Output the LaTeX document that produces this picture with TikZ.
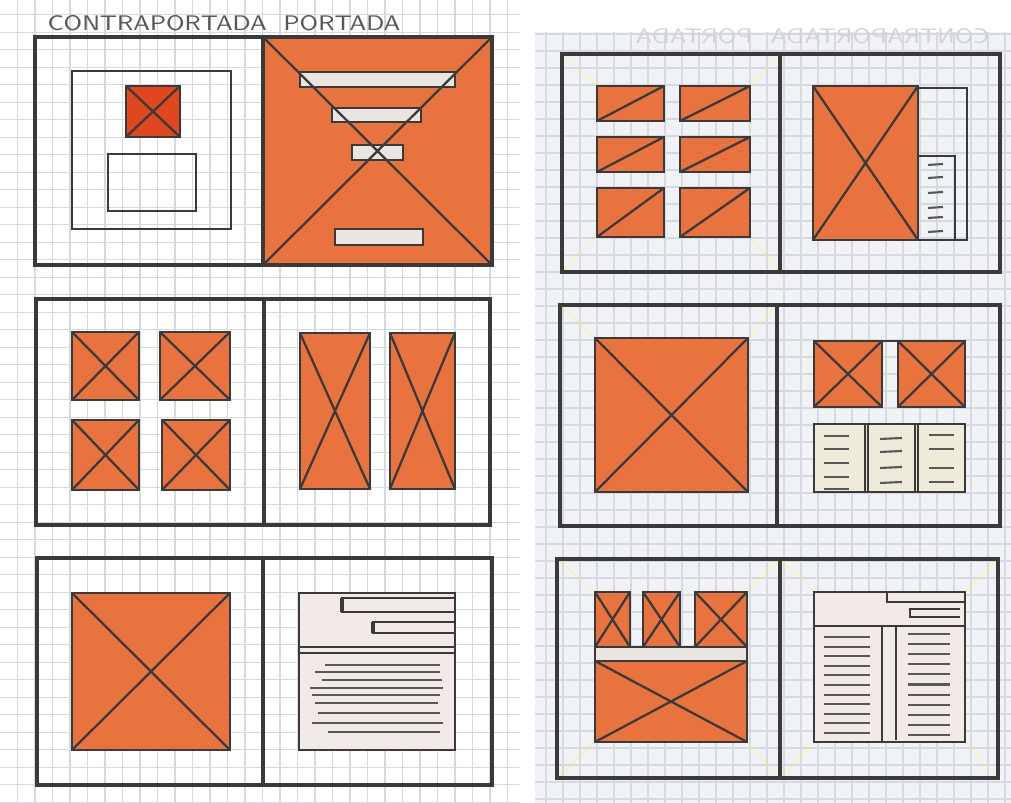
\documentclass[tikz,border=0pt]{standalone}
\usepackage{tikz}
\usetikzlibrary{calc}
\usepackage{xcolor}
\definecolor{SketchOrange}{HTML}{E9733F}
\definecolor{SketchRed}{HTML}{E0471F}
\definecolor{SketchPencil}{HTML}{3A3A3A}
\definecolor{SketchGrid}{HTML}{D5D9E0}
\definecolor{SketchPaper}{HTML}{F1F2F5}
\definecolor{SketchCream}{HTML}{EEEBDA}
\definecolor{SketchBlush}{HTML}{F2EAE6}
\definecolor{SketchStrip}{HTML}{E9E6E2}

% filled layout box with a cross / with one slash
\newcommand{\crossbox}[5][SketchOrange]{%
  \filldraw[frame,fill=#1] (#2,#3) rectangle (#4,#5);
  \draw[frame] (#2,#3) -- (#4,#5) (#2,#5) -- (#4,#3);}
\newcommand{\slashbox}[4]{%
  \filldraw[frame,fill=SketchOrange] (#1,#2) rectangle (#3,#4);
  \draw[frame] (#1,#4) -- (#3,#2);}

\begin{document}
\begin{tikzpicture}[x=0.1mm,y=-0.1mm,
    page/.style={draw=SketchPencil,line width=0.9pt},
    frame/.style={draw=SketchPencil,line width=0.65pt},
    hairline/.style={draw=SketchPencil,line width=0.45pt},
    textline/.style={draw=SketchPencil!85,line width=0.6pt},
    gridline/.style={draw=SketchGrid,line width=0.3pt},
    guide/.style={draw=yellow!70!white,line width=0.4pt,opacity=0.35},
    title/.style={text=SketchPencil!85,inner sep=0pt,anchor=base west,
      font=\sffamily\fontsize{6}{7}\selectfont}]
  \useasboundingbox (0,0) rectangle (1011,803);
  \fill[white] (0,0) rectangle (1011,803);

  % paper and squares
  \fill[SketchPaper] (535,32) rectangle (1011,803);
  \foreach \k in {1,...,29} \draw[gridline] (17.5*\k,0) -- (17.5*\k,803);
  \foreach \k in {1,...,46} \draw[gridline] (0,-2.7+17.5*\k) -- (520,-2.7+17.5*\k);
  \foreach \k in {0,...,27} \draw[gridline] (546+17*\k,32) -- (546+17*\k,803);
  \foreach \k in {0,...,45} \draw[gridline] (535,34+17*\k) -- (1011,34+17*\k);

  % titles
  \node[title] (contra) at (47,31) {\scalebox{1.12}[1]{CONTRAPORTADA}};
  \node[title] (portada) at (283,31) {\scalebox{1.12}[1]{PORTADA}};
  \node[title,text=SketchPencil!22] (ghost) at (635,44)
    {\reflectbox{\scalebox{1.12}[1]{CONTRAPORTADA\hspace{1.6mm}PORTADA}}};

  % ---- left sheet, row 1
  \fill[SketchOrange] (263,37) rectangle (492,265);
  \foreach \ax/\ay/\bx/\by in {300/72/455/87,332/108/421/122,352/145/403/160,335/229/423/245}
    \filldraw[hairline,fill=SketchStrip] (\ax,\ay) rectangle (\bx,\by);
  \draw[frame] (263,37) -- (492,265) (492,37) -- (263,265);
  \draw[page] (35,37) rectangle (492,265) (263,37) -- (263,265);
  \draw[frame] (72,71) rectangle (231,229);
  \crossbox[SketchRed]{126}{86}{180}{137}
  \draw[frame] (108,154) rectangle (196,211);

  % ---- left sheet, row 2
  \draw[page] (36,299) rectangle (490,525) (264,299) -- (264,525);
  \crossbox{72}{332}{139}{400}
  \crossbox{160}{332}{230}{400}
  \crossbox{72}{420}{139}{490}
  \crossbox{162}{420}{230}{490}
  \crossbox{300}{333}{370}{489}
  \crossbox{390}{333}{455}{489}

  % ---- left sheet, row 3
  \draw[page] (37,558) rectangle (492,785) (263,558) -- (263,785);
  \crossbox{72}{593}{230}{750}
  \filldraw[frame,fill=SketchBlush] (299,593) rectangle (455,750);
  \draw[frame] (299,647) -- (455,647) (299,653) -- (455,653);
  \draw[hairline] (342,598) rectangle (455,612) (373,622) rectangle (455,633);
  \draw[frame,line width=1.2pt] (342,598) -- (342,612) (373,622) -- (373,633);
  \foreach \ly/\la/\lb in {665/325/440,672/315/440,680/322/442,688/310/443,695/312/440,
      703/315/438,713/318/440,723/312/443,732/328/440}
    \draw[textline] (\la,\ly) -- (\lb,\ly);

  % ---- right sheet, row 1
  \draw[guide] (562,54) -- (597,86) (780,54) -- (750,86) (562,272) -- (597,237) (780,272) -- (750,237);
  \draw[page] (562,54) rectangle (1000,272) (780,54) -- (780,272);
  \foreach \ry/\rz in {86/121,137/172,188/237} {
    \slashbox{597}{\ry}{664}{\rz}
    \slashbox{680}{\ry}{750}{\rz}
  }
  \crossbox{813}{86}{918}{240}
  \draw[frame] (918,88) -- (967,88) -- (967,240) -- (918,240);
  \draw[frame] (918,156) -- (955,156) -- (955,240);
  \foreach \ly in {165,178,193,208,218,232} \draw[textline] (928,\ly) -- (943,\ly-1);

  % ---- right sheet, row 2
  \draw[guide] (560,305) -- (595,338) (777,305) -- (748,338);
  \draw[page] (560,305) rectangle (1000,526) (777,305) -- (777,526);
  \crossbox{595}{338}{748}{492}
  \crossbox{814}{341}{882}{407}
  \crossbox{898}{341}{965}{407}
  \draw[frame] (882,341) -- (898,341);
  \filldraw[frame,fill=SketchCream] (814,424) rectangle (965,492);
  \draw[frame] (865,424) -- (865,492) (868,424) -- (868,492)
               (915,424) -- (915,492) (918,424) -- (918,492);
  \foreach \ly in {436,449,463,477,489} \draw[textline] (824,\ly) -- (849,\ly);
  \foreach \ly in {438,451,467,482} \draw[textline] (880,\ly+1) -- (902,\ly);
  \foreach \ly in {435,449,468,482} \draw[textline] (929,\ly) -- (954,\ly);

  % ---- right sheet, row 3
  \draw[guide] (557,559) -- (595,592) (780,559) -- (747,592) (557,778) -- (595,742) (780,778) -- (747,742)
               (780,559) -- (814,592) (998,559) -- (965,592) (780,778) -- (814,742) (998,778) -- (965,742);
  \draw[page] (557,559) rectangle (998,778) (780,559) -- (780,778);
  \crossbox{595}{592}{630}{647}
  \crossbox{643}{592}{680}{647}
  \crossbox{695}{592}{747}{647}
  \filldraw[frame,fill=SketchStrip] (595,647) rectangle (747,661);
  \crossbox{595}{661}{747}{742}
  \filldraw[frame,fill=SketchBlush] (814,592) rectangle (965,742);
  \draw[frame] (814,626) -- (965,626);
  \draw[frame] (887,592) -- (887,602) -- (965,602);
  \draw[frame] (960,609) -- (910,609) -- (910,617) -- (960,617);
  \draw[frame] (882,626) -- (882,742) (896,626) -- (896,740);
  \foreach \k in {0,...,10} \draw[textline] (824,637+9.6*\k) -- (870,637+9.6*\k);
  \foreach \k in {0,...,10} \draw[textline] (908,634+10.1*\k) -- (950,634+10.1*\k);
\end{tikzpicture}
\end{document}
